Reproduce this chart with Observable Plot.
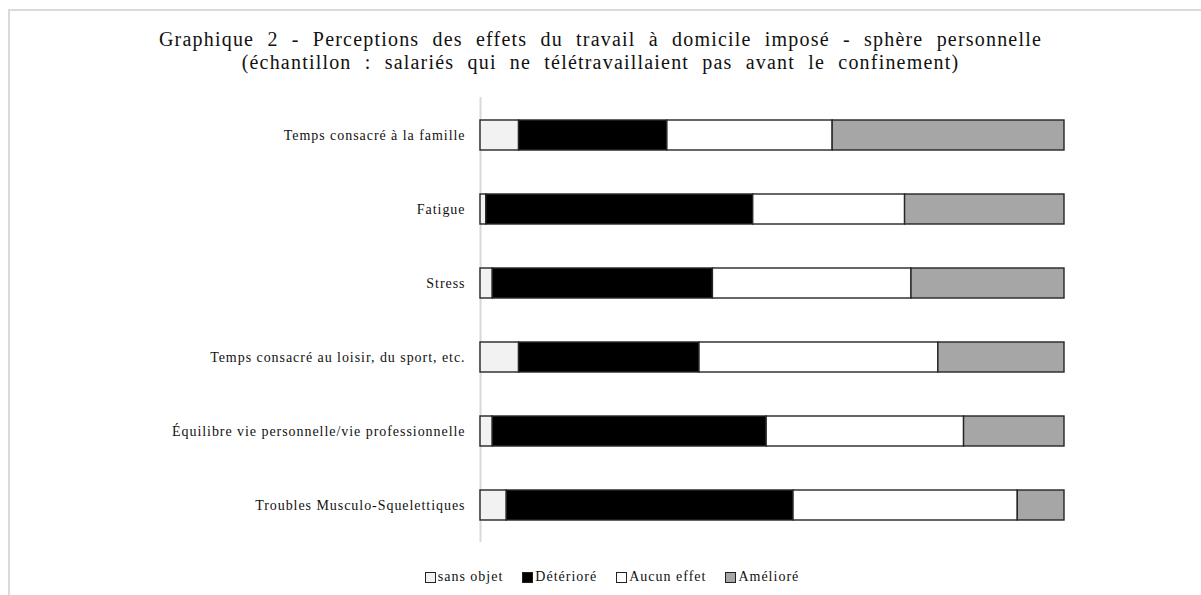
<!DOCTYPE html>
<html>
<head>
<meta charset="utf-8">
<script src="https://cdn.jsdelivr.net/npm/d3@7"></script>
<script src="https://cdn.jsdelivr.net/npm/@observablehq/plot@0.6"></script>
<style>
  html, body { margin: 0; padding: 0; background: #fff; }
  #wrap { position: relative; width: 1201px; height: 595px; overflow: hidden; font-family: "Liberation Serif", "Times New Roman", Tinos, serif; }
  #frame { position: absolute; left: 8px; top: 9px; width: 1300px; height: 700px; border-left: 2px solid #d9d9d9; border-top: 2px solid #d9d9d9; }
  #title { position: absolute; left: 0; top: 28px; width: 1201px; text-align: center; font-size: 20px; line-height: 23px; color: #111; letter-spacing: 1.2px; word-spacing: 7px; }
  #chart { position: absolute; left: 0; top: 90px; }
  #legend { position: absolute; left: 0; top: 569px; width: 1224px; display: flex; justify-content: center; gap: 19px; font-size: 14px; color: #111; letter-spacing: 1px; }
  #legend span.item { display: inline-flex; align-items: center; }
  #legend span.sw { display: inline-block; width: 9px; height: 9px; border: 1px solid #222; margin-right: 2px; }
</style>
</head>
<body>
<div id="wrap">
  <div id="frame"></div>
  <div id="title">Graphique 2 - Perceptions des effets du travail à domicile imposé - sphère personnelle<br>(échantillon : salariés qui ne télétravaillaient pas avant le confinement)</div>
  <div id="chart"></div>
  <div id="legend"></div>
</div>
<script>
const categories = [
  "Temps consacré à la famille",
  "Fatigue",
  "Stress",
  "Temps consacré au loisir, du sport, etc.",
  "Équilibre vie personnelle/vie professionnelle",
  "Troubles Musculo-Squelettiques"
];
const series = ["sans objet", "Détérioré", "Aucun effet", "Amélioré"];
const colors = ["#f2f2f2", "#000000", "#ffffff", "#a6a6a6"];
const sansObjet  = [6.6, 1.0, 2.1, 6.6, 2.1, 4.5];
const deteriore  = [25.4, 45.7, 37.7, 30.9, 46.9, 49.1];
const aucunEffet = [28.3, 26.0, 34.0, 40.9, 33.8, 38.4];
const ameliore   = [39.7, 27.3, 26.2, 21.6, 17.2, 8.0];

const fontStack = "'Liberation Serif', 'Times New Roman', Tinos, serif";

const valuesBySeries = [sansObjet, deteriore, aucunEffet, ameliore];
const data = [];
categories.forEach((c, i) => {
  series.forEach((s, j) => data.push({category: c, series: s, value: valuesBySeries[j][i]}));
});

const chart = Plot.plot({
  width: 1201,
  height: 460,
  marginLeft: 480,
  marginRight: 137,
  marginTop: 7,
  marginBottom: 8,
  style: {fontFamily: fontStack, fontSize: "14px", color: "#111", background: "transparent"},
  x: {domain: [0, 100], axis: null},
  y: {domain: categories, paddingInner: 0.6, paddingOuter: 0.3, label: null},
  color: {domain: series, range: colors},
  marks: [
    Plot.ruleX([0], {stroke: "#d9d9d9", strokeWidth: 2}),
    Plot.barX(data, Plot.stackX({x: "value", y: "category", fill: "series", order: series, stroke: "#262626", strokeWidth: 1.4})),
    Plot.axisY({tickSize: 0, tickPadding: 15, fontSize: 14, label: null, fontFamily: fontStack})
  ]
});
chart.querySelectorAll("g[aria-label^='y-axis'] text").forEach(t => t.setAttribute("letter-spacing", "0.95px"));
document.getElementById("chart").appendChild(chart);

const legend = document.getElementById("legend");
series.forEach((s, j) => {
  const item = document.createElement("span");
  item.className = "item";
  const sw = document.createElement("span");
  sw.className = "sw";
  sw.style.background = colors[j];
  item.appendChild(sw);
  item.appendChild(document.createTextNode(s));
  legend.appendChild(item);
});
</script>
</body>
</html>
